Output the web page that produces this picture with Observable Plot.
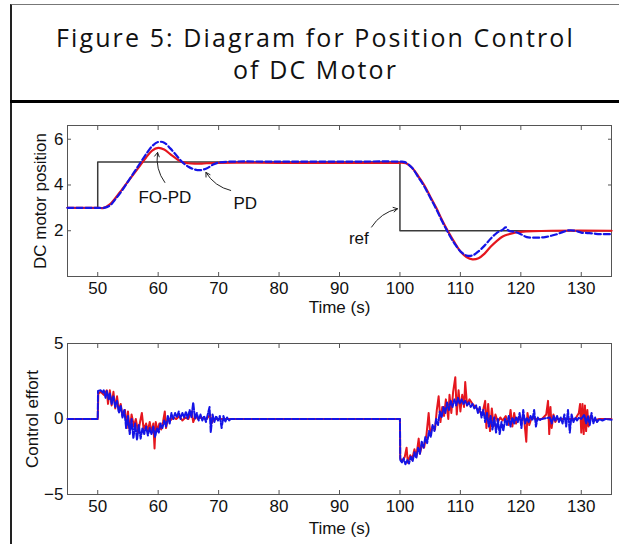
<!DOCTYPE html>
<html><head><meta charset="utf-8">
<script src="https://cdn.jsdelivr.net/npm/d3@7"></script>
<script src="https://cdn.jsdelivr.net/npm/@observablehq/plot@0.6"></script>
<style>
body{margin:0;background:#fff;width:619px;height:544px;overflow:hidden;position:relative;font-family:"Liberation Sans",Arial,sans-serif}
#frame{position:absolute;left:10px;top:4px;width:609px;height:540px;border-top:1px solid #777;border-left:2px solid #222;box-sizing:border-box}
#title{position:absolute;left:12px;top:21px;width:607px;text-align:center;font-family:"Open Sans",sans-serif;font-size:25px;line-height:32px;color:#111;letter-spacing:2.1px}
#sep{position:absolute;left:10px;top:100px;width:609px;height:3px;background:#000}
#topChart{position:absolute;left:13px;top:105px}
#botChart{position:absolute;left:13px;top:320px}
</style></head>
<body>
<div id="frame"></div>
<div id="title">Figure 5: Diagram for Position Control<br>of DC Motor</div>
<div id="sep"></div>
<div id="topChart"></div>
<div id="botChart"></div>
<script>
// ---------- data ----------
const xTicks = [50, 60, 70, 80, 90, 100, 110, 120, 130];
const posTicks = [2, 4, 6];
const effTicks = [-5, 0, 5];

const refT = [45, 50, 50, 100, 100, 135];
const refV = [3, 3, 5, 5, 2, 2];

const foPosT = [45, 50, 51, 52, 53, 54, 55, 56, 57, 58, 59, 60, 61, 62, 63, 64, 65, 66, 67, 68, 70, 80, 90, 100, 100.5, 101, 102, 103, 104, 105, 106, 107, 108, 109, 110, 111, 112, 113, 114, 115, 116, 117, 118, 119, 120, 122, 125, 135];
const foPosV = [3.0, 3.0, 3.0, 3.15, 3.45, 3.8, 4.15, 4.5, 4.85, 5.2, 5.5, 5.62, 5.55, 5.35, 5.15, 5.0, 4.95, 4.93, 4.93, 4.95, 4.97, 4.97, 4.97, 4.97, 4.97, 4.95, 4.75, 4.4, 4.0, 3.5, 3.0, 2.45, 1.95, 1.5, 1.1, 0.85, 0.75, 0.8, 1.0, 1.3, 1.55, 1.75, 1.85, 1.92, 1.95, 1.98, 2.0, 2.0];

const pdPosT = [45, 50, 51, 52, 53, 54, 55, 56, 57, 58, 59, 60, 61, 62, 63, 64, 65, 66, 67, 68, 69, 70, 72, 80, 90, 100, 100.8, 102, 103, 104, 105, 106, 107, 108, 109, 110, 111, 112, 113, 114, 115, 116, 117, 117.5, 118, 119, 120, 121, 122, 123, 124, 125, 126, 127, 128, 129, 130, 131, 132, 133, 134, 135];
const pdPosV = [3.0, 3.0, 3.0, 3.1, 3.4, 3.75, 4.15, 4.55, 4.95, 5.35, 5.7, 5.88, 5.85, 5.6, 5.3, 5.0, 4.8, 4.68, 4.65, 4.72, 4.88, 4.98, 5.02, 5.02, 5.02, 5.02, 5.0, 4.75, 4.35, 3.95, 3.45, 2.95, 2.4, 1.9, 1.45, 1.1, 0.92, 0.92, 1.1, 1.35, 1.65, 1.9, 2.05, 2.15, 2.0, 1.95, 1.85, 1.72, 1.7, 1.7, 1.72, 1.78, 1.85, 1.95, 2.02, 2.0, 1.92, 1.9, 1.88, 1.85, 1.85, 1.85];

const foEffT = [45, 50, 50.1, 50.5, 51, 51.5, 51.7, 52, 52.3, 52.6, 52.9, 53.2, 53.5, 53.8, 54.1, 54.5, 54.8, 55, 55.3, 55.6, 56, 56.3, 56.7, 57, 57.3, 57.6, 58, 58.3, 58.6, 58.9, 59.2, 59.4, 59.6, 59.9, 60.2, 60.5, 60.8, 61.1, 61.3, 61.6, 62, 62.5, 63, 63.5, 64, 64.5, 65, 65.5, 65.8, 66.2, 66.6, 67, 68, 68.6, 68.8, 69.2, 70, 100,
  100.05, 100.4, 100.8, 101.1, 101.3, 101.7, 102, 102.4, 102.7, 103.1, 103.3, 103.7, 104, 104.4, 104.75, 105, 105.4, 105.8, 106.1, 106.4, 106.7, 107, 107.3, 107.6, 108, 108.2, 108.5, 108.8, 109.16, 109.4, 109.7, 110, 110.3, 110.6, 110.8, 111.1, 111.5, 112, 112.5, 113, 113.6, 114.1, 114.3, 114.6, 114.9, 115.2, 115.5, 115.8, 116.2, 116.6, 117, 117.5, 118, 118.3, 118.6, 118.9, 119.2, 119.6, 120, 120.5, 120.9, 121.1, 121.4, 121.8, 122.5, 123.5, 124.2, 124.5, 124.7, 124.9, 125.1, 125.4, 125.7, 126, 129, 129.6, 129.8, 130, 130.2, 130.4, 130.6, 130.8, 131, 131.2, 131.5, 132, 133, 135];
const foEffV = [0, 0, 1.7, 1.8, 1.6, 1.9, 1.0, 1.9, 0.9, 1.8, 0.7, 1.5, 0.5, 1.0, 0.2, 0.6, -0.6, 0.5, -0.8, 0.3, -0.5, 0.0, -0.9, -0.2, 0.4, -0.7, -0.3, -0.8, -0.2, -0.9, -0.3, -1.95, -0.2, -0.8, -0.3, -0.7, -0.2, 0.5, -0.6, 0.0, -0.1, 0.1, 0.0, 0.2, -0.1, 0.1, 0.0, 0.5, -0.2, 0.2, 0.0, 0.1, 0.0, 0.3, -0.3, 0.0, 0.0, 0.0,
  -2.6, -2.8, -2.5, -1.9, -2.9, -2.4, -2.7, -2.0, -2.5, -1.3, -2.3, -1.6, -1.9, -1.0, 0.4, -1.0, -0.5, -0.7, 0.6, 1.5, -0.2, 0.8, 0.2, 1.3, 0.0, 1.6, 0.4, 1.8, 2.77, 0.3, 1.9, 0.5, 1.6, 0.8, 2.45, 0.9, 1.3, 1.0, 0.8, 0.6, 0.3, 1.2, -0.6, 1.0, -0.8, 0.7, -0.5, 0.3, -0.2, 0.1, -0.1, 0.2, -0.4, 0.6, -0.5, 0.4, -0.3, 0.1, -0.1, 0.2, -1.5, 0.4, -0.4, 0.1, 0.0, 0.0, 0.3, 1.2, -1.0, 0.8, -0.6, 0.3, -0.2, 0.0, 0.0, 0.4, 1.0, -0.9, 1.0, -1.0, 0.9, -0.8, 0.6, -0.5, 0.2, -0.1, 0.0, 0.0];

const pdEffT = [45, 50, 50.05, 50.5, 50.8, 51, 51.3, 51.5, 51.8, 52, 52.3, 52.6, 52.9, 53.2, 53.5, 53.8, 54.1, 54.4, 54.7, 55, 55.3, 55.6, 55.9, 56.2, 56.5, 56.8, 57.1, 57.4, 57.7, 58, 58.3, 58.6, 58.9, 59.2, 59.5, 59.8, 60.1, 60.4, 60.7, 61, 61.3, 61.6, 61.9, 62.2, 62.5, 62.8, 63.1, 63.4, 63.7, 64, 64.3, 64.6, 64.9, 65.2, 65.5, 65.8, 66.1, 66.4, 66.7, 67, 67.3, 67.6, 67.9, 68.2, 68.5, 68.7, 69, 69.3, 69.6, 69.9, 70.2, 70.5, 70.8, 71.1, 71.4, 71.7, 72, 100,
  100.05, 100.3, 100.6, 100.9, 101.2, 101.5, 101.8, 102.1, 102.4, 102.7, 103, 103.3, 103.6, 103.9, 104.2, 104.5, 104.8, 105.1, 105.4, 105.7, 106, 106.3, 106.6, 106.9, 107.2, 107.5, 107.8, 108.1, 108.4, 108.7, 109, 109.3, 109.6, 109.9, 110.2, 110.5, 110.8, 111.1, 111.4, 111.7, 112, 112.3, 112.6, 112.9, 113.2, 113.5, 113.8, 114.1, 114.4, 114.7, 115, 115.3, 115.6, 115.9, 116.2, 116.5, 116.8, 117.1, 117.4, 117.7, 118, 118.3, 118.6, 118.9, 119.2, 119.5, 119.8, 120.1, 120.4, 120.7, 121, 121.3, 121.6, 121.9, 122.2, 122.5, 122.8, 123.1, 123.4, 124.8, 125.1, 125.4, 125.7, 126, 126.3, 126.6, 126.9, 127.2, 127.5, 127.8, 128.1, 128.4, 128.7, 129, 129.3, 129.6, 130, 130.5, 130.8, 131.1, 131.4, 131.7, 132, 132.3, 132.6, 133, 133.5, 134, 135];
const pdEffV = [0, 0, 1.85, 1.9, 1.75, 1.9, 1.4, 1.85, 1.3, 1.7, 1.0, 1.5, 0.8, 1.2, 0.4, 0.9, 0.1, 0.6, -0.6, 0.2, -1.0, 0.0, -1.3, -0.3, -1.4, -0.4, -1.3, -0.6, -1.0, -0.5, -1.1, -0.6, -1.0, -0.5, -1.2, -0.6, -0.9, -0.3, -0.6, -0.1, -0.5, 0.2, -0.3, 0.4, 0.0, 0.4, 0.1, 0.5, 0.0, 0.4, 0.1, 0.5, 0.0, 0.6, 0.1, 1.1, 0.0, 0.4, -0.1, 0.3, -0.1, 0.2, -0.2, 0.3, 0.8, -0.9, 0.3, -0.2, 0.2, -0.1, 0.2, -0.6, 0.2, -0.2, 0.1, -0.1, 0, 0,
  -2.7, -2.9, -2.6, -3.0, -2.7, -2.95, -2.5, -2.8, -2.2, -2.6, -1.9, -2.3, -1.5, -1.9, -1.2, -1.6, -0.8, -1.2, -0.4, -0.8, 0.0, -0.4, 0.5, 0.1, 0.8, 0.4, 1.1, 0.6, 1.2, 0.8, 1.3, 0.9, 1.4, 1.0, 1.3, 1.0, 1.2, 0.9, 1.1, 0.8, 1.0, 0.7, 0.9, 0.4, 0.8, 0.1, 0.6, -0.2, 0.4, -0.5, 0.2, -0.7, 0.1, -0.9, 0.0, -1.0, -0.2, -0.8, 0.0, -0.4, 0.2, -0.5, 0.1, -0.3, 0.1, -0.2, 0.4, -0.6, 0.6, -0.3, 0.1, -0.2, 0.2, -0.1, 0.6, -0.5, 0.1, -0.1, 0.0, 0.1, -0.3, 0.2, -0.1, 0.2, -0.2, 0.1, -0.3, 0.3, -0.5, 0.6, -0.9, 0.3, -0.2, 0.1, -0.1, 0.1, 0, 0.3, -0.3, 0.2, -0.4, 0.4, -0.3, 0.1, -0.2, 0.0, -0.1, 0.0, -0.05];

const annText = ["FO-PD", "PD", "ref"];
const annX = [61.1, 74.4, 93.2];
const annY = [3.45, 3.19, 1.66];
const arrX1 = [61.1, 72.0, 95.3], arrY1 = [4.11, 3.76, 2.16];
const arrX2 = [59.9, 67.9, 99.6], arrY2 = [5.42, 4.55, 2.96];

// ---------- helpers ----------
const zip = (t, v) => t.map((d, i) => ({t: d, v: v[i]}));
const RED = "#e5161e", BLUE = "#1414e6", REF = "#3a3a3a";
const FONT = "'Liberation Sans', Arial, sans-serif";

function frameAxes(yTicks, timeDy) {
  return [
    Plot.frame({stroke: "#555", strokeWidth: 1}),
    Plot.axisX(xTicks, {anchor: "bottom", tickSize: 0, tickPadding: 5, fontSize: 17, label: null}),
    Plot.axisX(xTicks, {anchor: "bottom", tickSize: 4, dy: -4, text: null, label: null, stroke: "#555"}),
    Plot.axisX(xTicks, {anchor: "top", tickSize: 4, dy: 4, text: null, label: null, stroke: "#555"}),
    Plot.axisY(yTicks, {anchor: "left", tickSize: 0, tickPadding: 4, fontSize: 17, label: null}),
    Plot.axisY(yTicks, {anchor: "left", tickSize: 4, dx: 4, text: null, label: null, stroke: "#555"}),
    Plot.axisY(yTicks, {anchor: "right", tickSize: 4, dx: -4, text: null, label: null, stroke: "#555"}),
    Plot.text(["Time (s)"], {frameAnchor: "bottom", lineAnchor: "middle", textAnchor: "middle", dy: timeDy, fontSize: 17, fill: "#111"})
  ];
}

// ---------- top chart ----------
const topPlot = Plot.plot({
  width: 606, height: 215,
  marginLeft: 54, marginRight: 8, marginTop: 20, marginBottom: 44,
  style: {background: "transparent", fontFamily: FONT, color: "#111"},
  x: {domain: [45, 135], axis: null},
  y: {domain: [0, 6.6], axis: null},
  marks: [
    ...frameAxes(posTicks, 31),
    Plot.line(zip(refT, refV), {x: "t", y: "v", stroke: REF, strokeWidth: 1.5}),
    Plot.line(zip(foPosT, foPosV), {x: "t", y: "v", stroke: RED, strokeWidth: 2.2, curve: "catmull-rom"}),
    Plot.line(zip(pdPosT, pdPosV), {x: "t", y: "v", stroke: BLUE, strokeWidth: 2.2, strokeDasharray: "6,3", curve: "catmull-rom"}),
    Plot.text(["DC motor position"], {frameAnchor: "left", textAnchor: "middle", lineAnchor: "middle", rotate: -90, dx: -27, fontSize: 17, fill: "#111"}),
    Plot.arrow(d3.range(3), {x1: i => arrX1[i], y1: i => arrY1[i], x2: i => arrX2[i], y2: i => arrY2[i], stroke: "#222", strokeWidth: 1, headLength: 7, bend: true, insetEnd: 0}),
    Plot.text(d3.range(3), {x: i => annX[i], y: i => annY[i], text: i => annText[i], fontSize: 17, fill: "#111"})
  ]
});
document.getElementById("topChart").append(topPlot);

// ---------- bottom chart ----------
const botPlot = Plot.plot({
  width: 606, height: 224,
  marginLeft: 54, marginRight: 8, marginTop: 23, marginBottom: 50,
  style: {background: "transparent", fontFamily: FONT, color: "#111"},
  x: {domain: [45, 135], axis: null},
  y: {domain: [-5, 5], axis: null},
  marks: [
    ...frameAxes(effTicks, 34),
    Plot.line(zip(foEffT, foEffV), {x: "t", y: "v", stroke: RED, strokeWidth: 2}),
    Plot.line(zip(pdEffT, pdEffV), {x: "t", y: "v", stroke: BLUE, strokeWidth: 2, strokeDasharray: "6,2"}),
    Plot.text(["Control effort"], {frameAnchor: "left", textAnchor: "middle", lineAnchor: "middle", rotate: -90, dx: -35, fontSize: 17, fill: "#111"})
  ]
});
document.getElementById("botChart").append(botPlot);
</script>
</body></html>
